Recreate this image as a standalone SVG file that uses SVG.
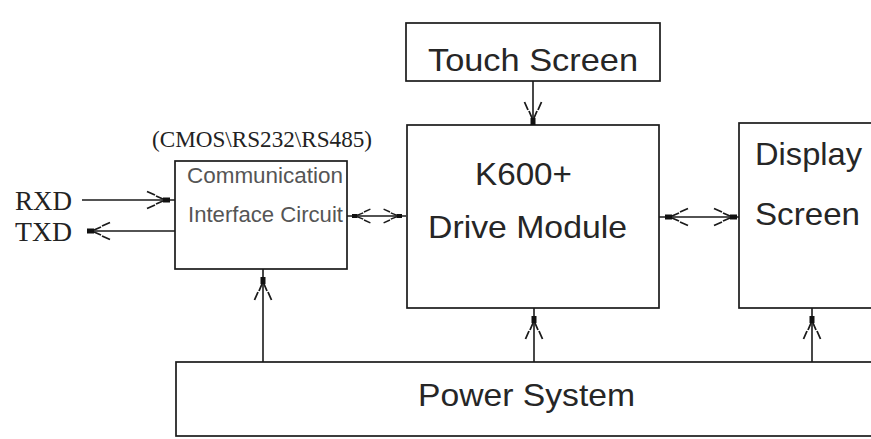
<svg xmlns="http://www.w3.org/2000/svg" xmlns:xlink="http://www.w3.org/1999/xlink" width="871" height="439" viewBox="0 0 871 439">
<style>
.box{fill:#fff;stroke:#1a1a1a;stroke-width:1.7}
.lbl{font-family:"Liberation Sans",Arial,sans-serif;font-size:32px;fill:#262626}
.small{font-family:"Liberation Sans",Arial,sans-serif;font-size:22px;fill:#555}
.serif{font-family:"Liberation Serif","Times New Roman",serif;fill:#222}
.wire{stroke:#1a1a1a;stroke-width:1.6;fill:none}
</style>
<defs>
<g id="ah">
<rect x="-7" y="-2.5" width="7" height="5" fill="#111"/>
<path d="M-7,-1 L-14,-4 M-15,-5 L-23,-8.5 M-7,1 L-14,4 M-15,5 L-23,8.5" stroke="#1a1a1a" stroke-width="1.8" fill="none"/>
</g>
</defs>
<rect width="871" height="439" fill="#fff"/>

<g id="touch-screen">
<rect class="box" x="406" y="23" width="254" height="58"/>
<text class="lbl" x="428" y="71" textLength="210" lengthAdjust="spacingAndGlyphs">Touch Screen</text>
</g>

<g id="drive-module">
<rect class="box" x="407" y="125" width="252" height="183"/>
<text class="lbl" x="475" y="185" textLength="97" lengthAdjust="spacingAndGlyphs">K600+</text>
<text class="lbl" x="428" y="238" textLength="199" lengthAdjust="spacingAndGlyphs">Drive Module</text>
</g>

<g id="display-screen">
<rect class="box" x="739" y="123" width="150" height="185"/>
<text class="lbl" x="755" y="165" textLength="107" lengthAdjust="spacingAndGlyphs">Display</text>
<text class="lbl" x="755" y="225" textLength="105" lengthAdjust="spacingAndGlyphs">Screen</text>
</g>

<g id="comm-interface">
<text class="serif" x="152" y="147" font-size="24" textLength="220" lengthAdjust="spacingAndGlyphs">(CMOS\RS232\RS485)</text>
<rect class="box" x="175" y="161" width="172" height="108"/>
<text class="small" x="187" y="183" textLength="156" lengthAdjust="spacingAndGlyphs">Communication</text>
<text class="small" x="188" y="222" textLength="155" lengthAdjust="spacingAndGlyphs">Interface Circuit</text>
</g>

<g id="power-system">
<rect class="box" x="176" y="362" width="720" height="74"/>
<text class="lbl" x="418" y="406" textLength="217" lengthAdjust="spacingAndGlyphs">Power System</text>
</g>

<g id="rxd">
<text class="serif" x="15" y="210" font-size="27" textLength="57" lengthAdjust="spacingAndGlyphs">RXD</text>
</g>
<g id="txd">
<text class="serif" x="15" y="241" font-size="27" textLength="57" lengthAdjust="spacingAndGlyphs">TXD</text>
</g>

<g id="connectors">
<line class="wire" x1="82" y1="200" x2="175" y2="200"/>
<use xlink:href="#ah" transform="translate(170,200)"/>
<line class="wire" x1="175" y1="231" x2="87" y2="231"/>
<use xlink:href="#ah" transform="translate(87,231) rotate(180)"/>
<line class="wire" x1="347" y1="216" x2="406" y2="216"/>
<use xlink:href="#ah" transform="translate(352,216) rotate(180) scale(0.8)"/>
<use xlink:href="#ah" transform="translate(402,216) scale(0.8)"/>
<line class="wire" x1="659" y1="217" x2="739" y2="217"/>
<use xlink:href="#ah" transform="translate(665,217) rotate(180)"/>
<use xlink:href="#ah" transform="translate(737,217)"/>
<line class="wire" x1="533" y1="81" x2="533" y2="125"/>
<use xlink:href="#ah" transform="translate(533,125) rotate(90)"/>
<line class="wire" x1="263" y1="362" x2="263" y2="269"/>
<use xlink:href="#ah" transform="translate(263,277) rotate(-90)"/>
<line class="wire" x1="534" y1="362" x2="534" y2="308"/>
<use xlink:href="#ah" transform="translate(534,316) rotate(-90)"/>
<line class="wire" x1="812" y1="362" x2="812" y2="308"/>
<use xlink:href="#ah" transform="translate(812,316) rotate(-90)"/>
</g>
</svg>
